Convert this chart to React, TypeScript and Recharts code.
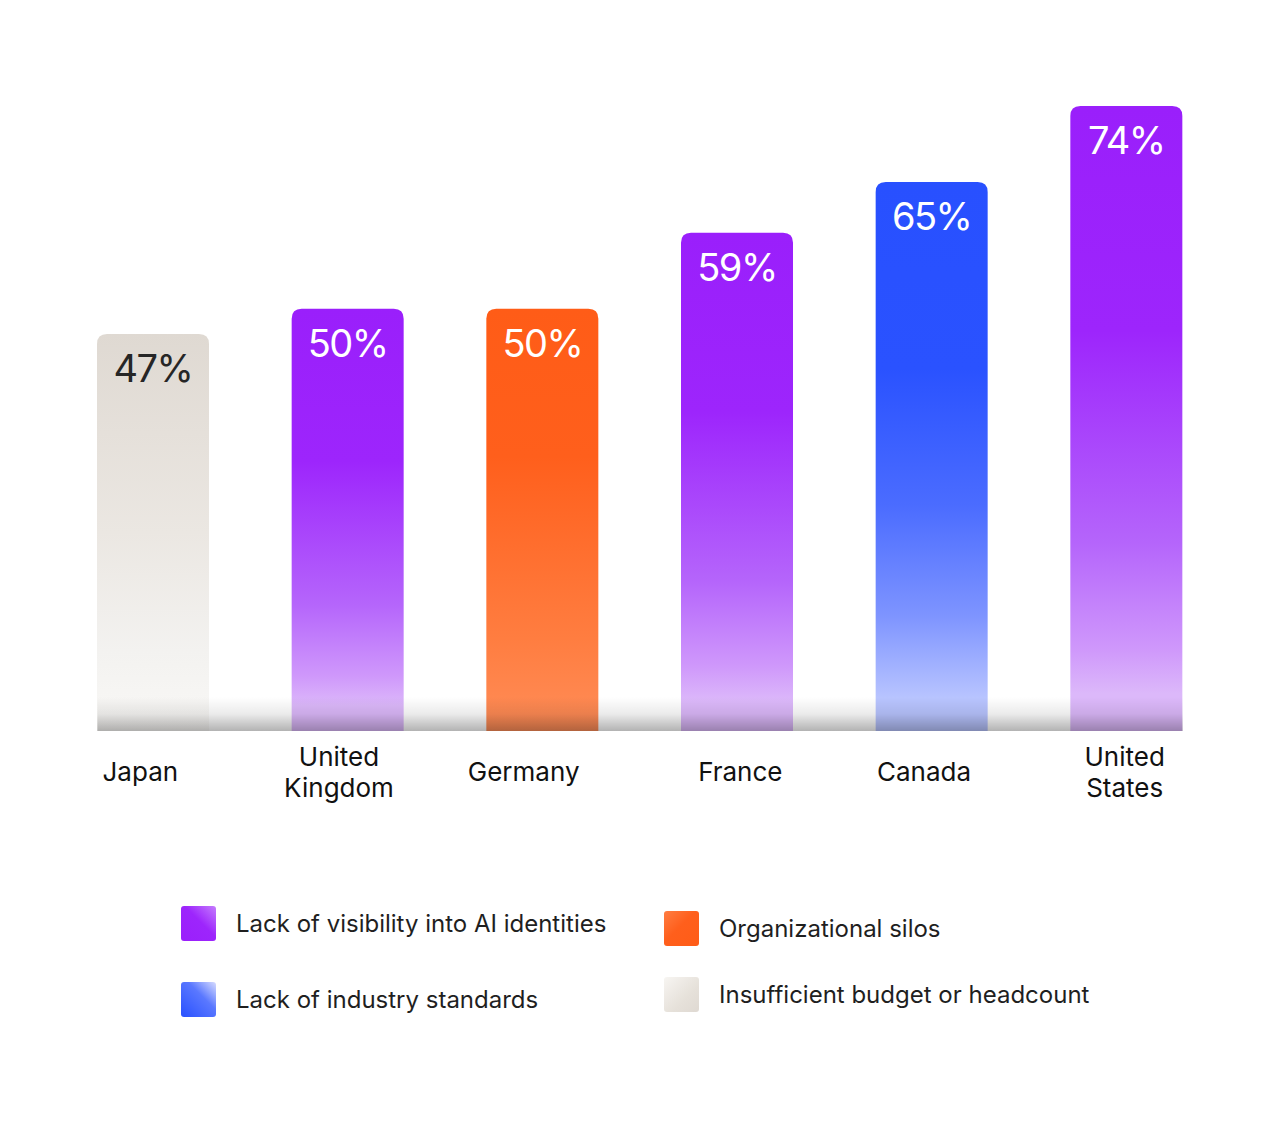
import { BarChart, Bar, XAxis, YAxis, LabelList, ReferenceArea } from "recharts";

const countries = ["Japan", "United Kingdom", "Germany", "France", "Canada", "United States"];
const topChallenge = [47, 50, 50, 59, 65, 74];
// which challenge is the top one in each country (index into challenges)
const challengeOfCountry = [3, 0, 2, 0, 1, 0];
const tickLines = [["Japan"], ["United", "Kingdom"], ["Germany"], ["France"], ["Canada"], ["United", "States"]];

const challenges = [
  "Lack of visibility into AI identities",
  "Lack of industry standards",
  "Organizational silos",
  "Insufficient budget or headcount",
];
const challengeKeys = ["purple", "blue", "orange", "beige"];

const BAR_SIZE = 112;
const FONT = "Inter, 'Noto Sans', sans-serif";
// the source sets its country names a little off the bar centres
const tickNudge = [-13, -9, -19, 3, -8, -2];

const data = countries.map((country, i) => ({
  country,
  value: topChallenge[i],
  kind: challengeKeys[challengeOfCountry[i]],
}));

function RoundedTopBar(props: any) {
  const { x, y, width, height, payload } = props;
  if (!height || height <= 0) return null;
  const r = 10;
  const d = `M${x},${y + height} L${x},${y + r} Q${x},${y} ${x + r},${y} L${x + width - r},${y} Q${x + width},${y} ${x + width},${y + r} L${x + width},${y + height} Z`;
  return <path d={d} fill={`url(#bar-${payload.kind})`} />;
}

function BaseShadow(props: any) {
  const { x, y, width, height } = props;
  const inset = (width / countries.length - BAR_SIZE) / 2;
  const h = 34;
  return (
    <rect
      x={x + inset}
      y={y + height - h}
      width={width - inset * 2}
      height={h}
      fill="url(#base-shadow)"
    />
  );
}

function ValueLabel(props: any) {
  const { x, y, width, value, index } = props;
  const dark = challengeOfCountry[index] === 3;
  return (
    <text
      x={x + width / 2}
      y={y + 48}
      textAnchor="middle"
      fontFamily={FONT}
      fontSize={38}
      letterSpacing={-1.5}
      fill={dark ? "#262626" : "#ffffff"}
    >
      {value}%
    </text>
  );
}

function CountryTick(props: any) {
  const { x, y, index } = props;
  const lines = tickLines[index] ?? [];
  const starts = lines.length > 1 ? [27, 58] : [42];
  return (
    <g>
      {lines.map((line, i) => (
        <text
          key={line}
          x={x + (tickNudge[index] ?? 0)}
          y={y + starts[i]}
          textAnchor="middle"
          fontFamily={FONT}
          fontSize={26}
          fill="#111111"
        >
          {line}
        </text>
      ))}
    </g>
  );
}

const legendSwatch: Record<string, string> = {
  purple: "linear-gradient(225deg, #c57dfd 0%, #9d25fc 45%, #9a1ffb 100%)",
  blue: "linear-gradient(225deg, #d7dcff 0%, #5a78ff 40%, #2850ff 100%)",
  orange: "linear-gradient(135deg, #ff7d42 0%, #ff5f1c 45%, #ff5c17 100%)",
  beige: "linear-gradient(135deg, #f7f5f2 0%, #e6e1da 60%, #dfd9d2 100%)",
};

const legendPlaces = [
  { left: 181, top: 906 },
  { left: 181, top: 982 },
  { left: 664, top: 911 },
  { left: 664, top: 977 },
];

export default function App() {
  return (
    <div style={{ position: "absolute", left: 0, top: 0, width: 1280, height: 1123, background: "#ffffff" }}>
      <BarChart
        width={1280}
        height={830}
        data={data}
        margin={{ top: 106, right: 56, bottom: 19, left: 56 }}
      >
        <defs>
          <linearGradient id="bar-purple" x1="0" y1="0" x2="0" y2="1">
            <stop offset="0" stopColor="#9a1ffb" />
            <stop offset="0.36" stopColor="#9d25fc" />
            <stop offset="0.7" stopColor="#b565fb" />
            <stop offset="0.87" stopColor="#cf98fb" />
            <stop offset="0.94" stopColor="#dcb8fa" />
            <stop offset="1" stopColor="#dcb8fa" />
          </linearGradient>
          <linearGradient id="bar-blue" x1="0" y1="0" x2="0" y2="1">
            <stop offset="0" stopColor="#2850ff" />
            <stop offset="0.34" stopColor="#2a52ff" />
            <stop offset="0.59" stopColor="#4b6cff" />
            <stop offset="0.79" stopColor="#7e94ff" />
            <stop offset="0.94" stopColor="#b8c4ff" />
            <stop offset="1" stopColor="#b8c4ff" />
          </linearGradient>
          <linearGradient id="bar-orange" x1="0" y1="0" x2="0" y2="1">
            <stop offset="0" stopColor="#ff5c17" />
            <stop offset="0.35" stopColor="#ff5f1c" />
            <stop offset="0.78" stopColor="#ff7d40" />
            <stop offset="1" stopColor="#ff8d58" />
          </linearGradient>
          <linearGradient id="bar-beige" x1="0" y1="0" x2="0" y2="1">
            <stop offset="0" stopColor="#dfd9d2" />
            <stop offset="0.5" stopColor="#ebe7e2" />
            <stop offset="0.8" stopColor="#f3f2f0" />
            <stop offset="1" stopColor="#f9f8f6" />
          </linearGradient>
          <linearGradient id="base-shadow" x1="0" y1="0" x2="0" y2="1">
            <stop offset="0" stopColor="#000000" stopOpacity={0} />
            <stop offset="0.5" stopColor="#000000" stopOpacity={0.08} />
            <stop offset="1" stopColor="#000000" stopOpacity={0.3} />
          </linearGradient>
        </defs>
        <XAxis
          dataKey="country"
          axisLine={false}
          tickLine={false}
          interval={0}
          height={80}
          tick={<CountryTick />}
        />
        <YAxis hide domain={[0, 74]} />
        <Bar dataKey="value" barSize={BAR_SIZE} shape={<RoundedTopBar />} isAnimationActive={false}>
          <LabelList dataKey="value" content={<ValueLabel />} />
        </Bar>
        <ReferenceArea
          x1="Japan"
          x2="United States"
          shape={<BaseShadow />}
          ifOverflow="visible"
          zIndex={650}
        />
      </BarChart>
      {challenges.map((label, i) => (
        <div
          key={label}
          style={{
            position: "absolute",
            left: legendPlaces[i].left,
            top: legendPlaces[i].top,
            display: "flex",
            alignItems: "center",
            fontFamily: FONT,
            fontSize: 24,
            color: "#1f1f1f",
            whiteSpace: "nowrap",
          }}
        >
          <span
            style={{
              width: 35,
              height: 35,
              borderRadius: 3,
              background: legendSwatch[challengeKeys[i]],
              marginRight: 20,
              display: "inline-block",
            }}
          />
          {label}
        </div>
      ))}
    </div>
  );
}
